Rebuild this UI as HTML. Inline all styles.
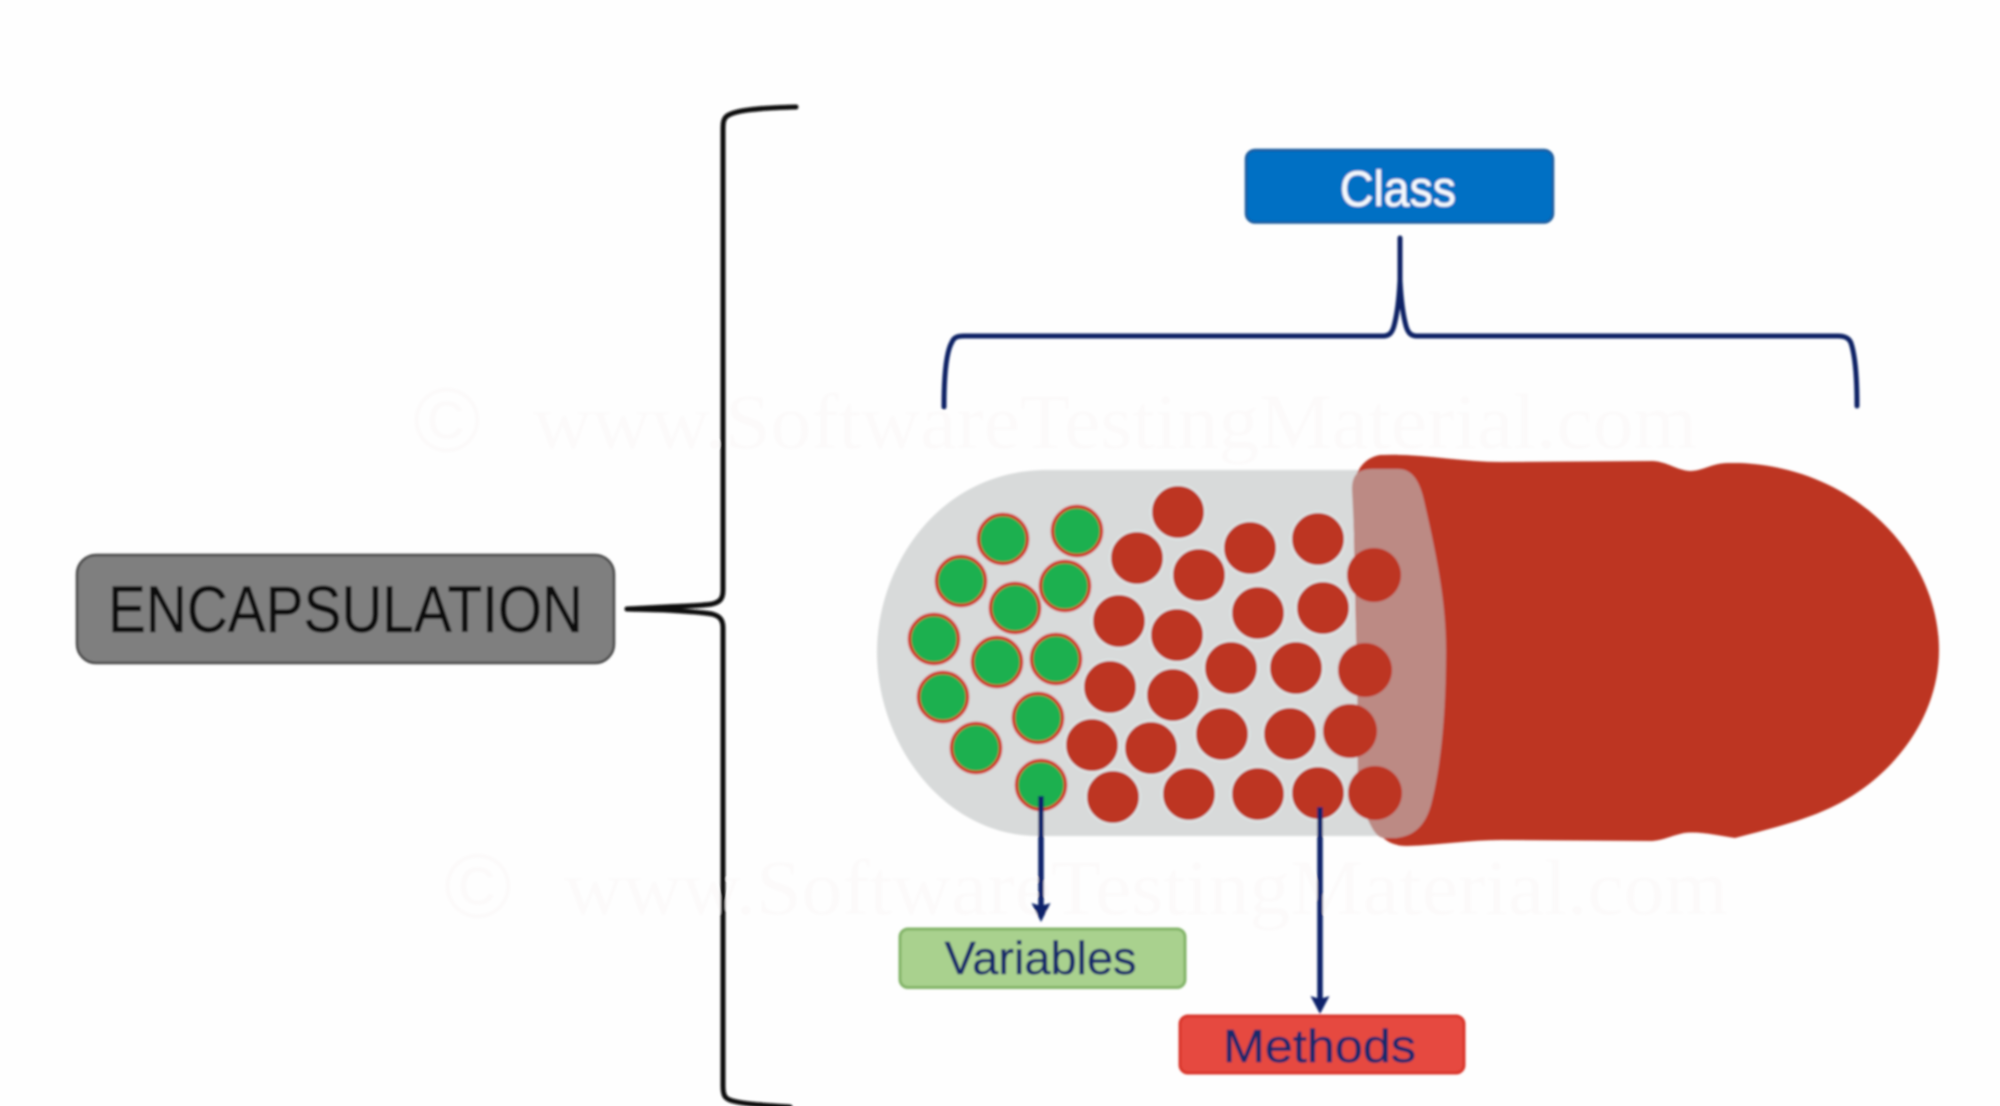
<!DOCTYPE html>
<html>
<head>
<meta charset="utf-8">
<title>Encapsulation</title>
<style>
html,body{margin:0;padding:0;background:#fefefe;width:2000px;height:1106px;overflow:hidden}
svg{display:block}
text{font-family:"Liberation Sans",sans-serif}
.wm{font-family:"Liberation Serif",serif;fill:#fcfafa}
.lbl{stroke-width:.5}
</style>
</head>
<body>
<svg width="2000" height="1106" viewBox="0 0 2000 1106" xmlns="http://www.w3.org/2000/svg">
<defs>
<filter id="b" x="-5%" y="-5%" width="110%" height="110%"><feGaussianBlur stdDeviation="1"/></filter>
</defs>
<rect width="2000" height="1106" fill="#fefefe"/>
<g filter="url(#b)">
<!-- watermarks -->
<text class="wm" x="413" y="452" font-size="92" style="font-family:'Liberation Sans',sans-serif">©</text>
<text class="wm" x="533" y="448" font-size="78" textLength="1164" lengthAdjust="spacingAndGlyphs">www.SoftwareTestingMaterial.com</text>
<text class="wm" x="444" y="918" font-size="92" style="font-family:'Liberation Sans',sans-serif">©</text>
<text class="wm" x="564" y="914" font-size="78" textLength="1164" lengthAdjust="spacingAndGlyphs">www.SoftwareTestingMaterial.com</text>

<!-- big bracket -->
<path d="M796 107 C760 108 735 110 727 116 C723 119 723 124 723 130 L723 590 C723 599 720 602 712 604 C700 606 680 606 665 607 L627 609" fill="none" stroke="#0c0c0c" stroke-width="5" stroke-linecap="round"/>
<path d="M627 609 L665 610 C682 611 700 612 712 614 C720 616 723 620 723 628 L723 1086 C723 1096 725 1099 733 1101 C745 1104 760 1105 790 1107" fill="none" stroke="#0c0c0c" stroke-width="5" stroke-linecap="round"/>

<!-- encapsulation -->
<rect x="77" y="555" width="537" height="108" rx="19" fill="#7f7f7f" stroke="#474747" stroke-width="2.5"/>
<text class="lbl" x="108" y="632" font-size="66" fill="#0a0a0a" stroke="#0a0a0a" textLength="475" lengthAdjust="spacingAndGlyphs">ENCAPSULATION</text>

<!-- class box -->
<rect x="1246" y="150" width="307" height="72.5" rx="9" fill="#0070c4" stroke="#1b5c9e" stroke-width="2.5"/>
<text class="lbl" x="1340" y="206" font-size="50" fill="#f4f8fc" stroke="#f4f8fc" textLength="116" lengthAdjust="spacingAndGlyphs">Class</text>

<!-- blue bracket -->
<path d="M944 407 C944 375 946 352 952 342 C954 337 958 336 964 336 L1383 336 C1389 336 1392 333 1394 326 C1397 315 1399 300 1400 280 L1400 238" fill="none" stroke="#0b2265" stroke-width="5" stroke-linecap="round"/>
<path d="M1400 280 C1401 300 1403 315 1406 326 C1408 333 1411 336 1417 336 L1838 336 C1845 336 1849 338 1851 343 C1855 355 1857 378 1857 406" fill="none" stroke="#0b2265" stroke-width="5" stroke-linecap="round"/>

<!-- gray capsule -->
<path d="M1390 470 L1047 470 C940 470 877 565 877 652 C877 745 945 836 1038 836 L1390 836 Z" fill="#d8dada"/>

<!-- red cap -->
<path d="M1353 490 C1355 470 1364 458 1380 455 C1420 453 1460 462 1501 462 L1653 461 C1668 462 1676 470 1690 471 C1703 471 1712 463 1728 463 L1740 463 C1860 468 1939 560 1939 650 C1939 720 1890 780 1830 808 C1800 822 1765 830 1735 838 C1720 836 1700 831 1684 833 C1670 836 1662 841 1650 841 L1501 840 C1470 840 1440 845 1407 846 C1395 846 1385 842 1378 832 L1360 800 Z" fill="#bd3424"/>

<!-- translucent overlay -->
<path d="M1352 490 C1352 477 1356 469 1372 469 L1398 469 C1412 469 1420 480 1425 505 C1440 570 1446 610 1446 650 C1446 720 1440 770 1431 805 C1425 826 1414 836 1396 838 L1385 838 C1378 838 1374 832 1370 824 L1358 800 C1357 700 1358 600 1352 490 Z" fill="#bc8a84"/>

<!-- circles -->
<g fill="#bd3424" stroke="#dfe7e7" stroke-width="2">
<circle cx="1178" cy="512" r="27"/>
<circle cx="1137" cy="558" r="27"/>
<circle cx="1250" cy="548" r="27"/>
<circle cx="1318" cy="539" r="27"/>
<circle cx="1199" cy="575" r="27"/>
<circle cx="1119" cy="621" r="27"/>
<circle cx="1177" cy="635" r="27"/>
<circle cx="1258" cy="613" r="27"/>
<circle cx="1323" cy="608" r="27"/>
<circle cx="1231" cy="668" r="27"/>
<circle cx="1296" cy="668" r="27"/>
<circle cx="1110" cy="687" r="27"/>
<circle cx="1173" cy="695" r="27"/>
<circle cx="1222" cy="734" r="27"/>
<circle cx="1290" cy="734" r="27"/>
<circle cx="1092" cy="745" r="27"/>
<circle cx="1151" cy="748" r="27"/>
<circle cx="1113" cy="797" r="27"/>
<circle cx="1189" cy="794" r="27"/>
<circle cx="1258" cy="794" r="27"/>
<circle cx="1318" cy="793" r="27"/>
</g>
<g fill="#bd3424">
<circle cx="1374" cy="575" r="27"/>
<circle cx="1365" cy="670" r="27"/>
<circle cx="1350" cy="731" r="27"/>
<circle cx="1375" cy="793" r="27"/>
</g>
<g fill="#1fb04f" stroke="#d2382a" stroke-width="3.5">
<circle cx="1003" cy="539" r="24.5"/>
<circle cx="1077" cy="531" r="24.5"/>
<circle cx="961" cy="581" r="24.5"/>
<circle cx="1065" cy="586" r="24.5"/>
<circle cx="1015" cy="608" r="24.5"/>
<circle cx="934" cy="639" r="24.5"/>
<circle cx="997" cy="662" r="24.5"/>
<circle cx="1056" cy="659" r="24.5"/>
<circle cx="943" cy="697" r="24.5"/>
<circle cx="1038" cy="718" r="24.5"/>
<circle cx="976" cy="748" r="24.5"/>
<circle cx="1041" cy="785" r="24.5"/>
</g>

<!-- arrows -->
<line x1="1041" y1="796" x2="1041" y2="908" stroke="#07206b" stroke-width="5.5"/>
<path d="M1031.5 903 L1041 906 L1050.5 903 L1041 922 Z" fill="#07206b"/>
<line x1="1320" y1="807" x2="1320" y2="1000" stroke="#07206b" stroke-width="5.5"/>
<path d="M1310.5 996 L1320 999 L1329.5 996 L1320 1014 Z" fill="#07206b"/>

<!-- variables -->
<rect x="900" y="929" width="285" height="58.5" rx="8" fill="#a9d18e" stroke="#82b468" stroke-width="3"/>
<text class="lbl" x="944.5" y="974" font-size="46" fill="#12296b" stroke="#12296b" textLength="192" lengthAdjust="spacingAndGlyphs">Variables</text>

<!-- methods -->
<rect x="1180" y="1016" width="284" height="57" rx="8" fill="#e6483f" stroke="#d9352a" stroke-width="3"/>
<text class="lbl" x="1223" y="1062" font-size="46" fill="#12296b" stroke="#12296b" textLength="193" lengthAdjust="spacingAndGlyphs">Methods</text>
</g>
</svg>
</body>
</html>
